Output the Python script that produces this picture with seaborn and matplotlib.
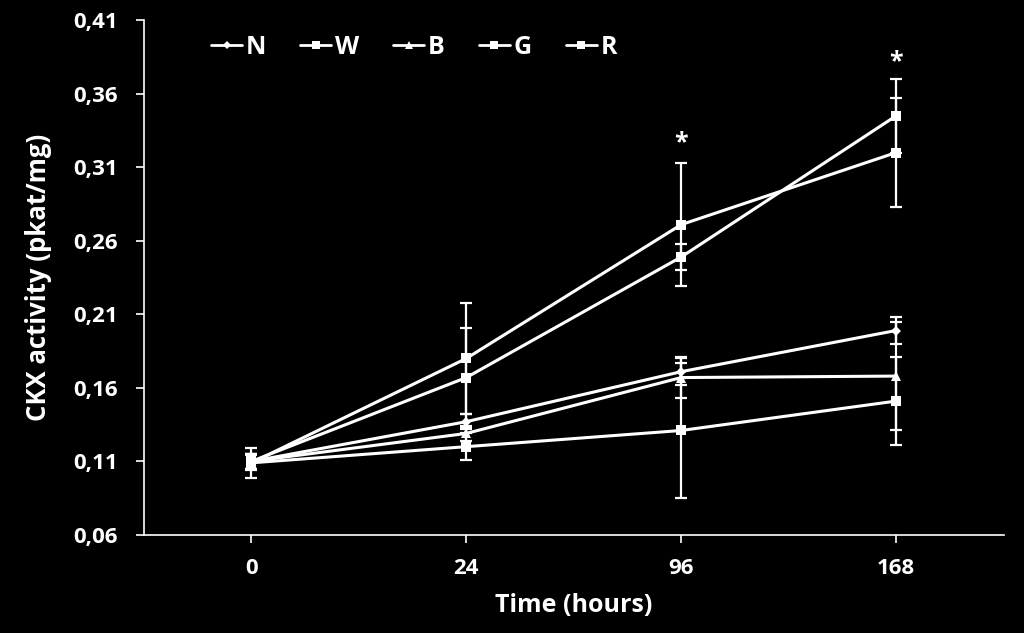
import seaborn as sns
import matplotlib.pyplot as plt
import matplotlib.ticker as mticker
import numpy as np
import pandas as pd

# Data (CKX activity, pkat/mg)
times = ['0', '24', '96', '168']
series = ['N', 'W', 'B', 'G', 'R']
N_vals = [0.110, 0.137, 0.171, 0.199]
W_vals = [0.109, 0.120, 0.131, 0.151]
B_vals = [0.110, 0.129, 0.167, 0.168]
G_vals = [0.109, 0.180, 0.271, 0.320]
R_vals = [0.110, 0.167, 0.249, 0.345]
N_err = [0.005, 0.005, 0.009, 0.009]
W_err = [0.010, 0.009, 0.046, 0.030]
B_err = [0.005, 0.005, 0.014, 0.037]
G_err = [0.005, 0.038, 0.042, 0.037]
R_err = [0.005, 0.034, 0.009, 0.025]
star_times = ['96', '168']
star_y = [0.327, 0.382]

values = {'N': N_vals, 'W': W_vals, 'B': B_vals, 'G': G_vals, 'R': R_vals}
errors = {'N': N_err, 'W': W_err, 'B': B_err, 'G': G_err, 'R': R_err}
markers = {'N': 'D', 'W': 's', 'B': '^', 'G': 's', 'R': 's'}
msizes = {'N': 5, 'W': 7, 'B': 7, 'G': 7, 'R': 7}

pos = np.arange(len(times))
rows = []
for s in series:
    for p, v in zip(pos, values[s]):
        rows.append({'pos': p, 'value': v, 'series': s})
df = pd.DataFrame(rows)

sns.set_theme(style='ticks')
plt.rcParams['font.family'] = ['Open Sans', 'DejaVu Sans']
plt.rcParams['font.weight'] = 'bold'

fig = plt.figure(figsize=(10.24, 6.33), dpi=100, facecolor='black')
ax = fig.add_axes([0.1406, 0.155, 0.8394, 0.813])
ax.set_facecolor('black')

for s in series:
    ax.errorbar(pos, values[s], yerr=errors[s], fmt='none', ecolor='white',
                elinewidth=1.6, capsize=4, capthick=1.6, zorder=2)

sns.lineplot(data=df, x='pos', y='value', hue='series', style='series',
             palette={s: 'white' for s in series}, markers=markers,
             dashes=False, linewidth=2.2, markersize=7, markeredgewidth=0,
             ax=ax, zorder=3, legend=False)

# diamond is smaller than the squares
for line, s in zip(ax.get_lines()[-len(series):], series):
    line.set_markersize(msizes[s])

handles = [plt.Line2D([], [], color='white', lw=2, marker=markers[s],
                      markersize=msizes[s] - 1, markeredgewidth=0) for s in series]
ax.legend(handles, series, ncol=5, frameon=False, loc='center left',
          bbox_to_anchor=(0.078, 0.947), handlelength=1.25, handletextpad=0.15,
          columnspacing=1.35, labelcolor='white', borderaxespad=0, borderpad=0,
          prop={'family': 'Open Sans', 'weight': 'bold', 'size': 18})

for t, y in zip(star_times, star_y):
    ax.text(times.index(t), y, '*', color='white', ha='center', va='center',
            fontsize=18, fontweight='bold')

ax.set_xlim(-0.5, 3.5)
ax.set_ylim(0.06, 0.41)
ax.set_xticks(pos)
ax.set_xticklabels(times)
ax.yaxis.set_major_locator(mticker.FixedLocator(np.arange(0.06, 0.4101, 0.05)))
ax.yaxis.set_major_formatter(mticker.FuncFormatter(lambda v, _: f'{v:.2f}'.replace('.', ',')))

for side in ['top', 'right']:
    ax.spines[side].set_visible(False)
for side in ['left', 'bottom']:
    ax.spines[side].set_color('white')
    ax.spines[side].set_linewidth(1.2)
ax.tick_params(colors='white', labelsize=16, length=6, width=1.2, direction='out')
ax.tick_params(axis='x', pad=11)
ax.tick_params(axis='y', pad=13)
for lab in ax.get_xticklabels() + ax.get_yticklabels():
    lab.set_fontweight('bold')

ax.set_xlabel('Time (hours)', color='white', fontsize=18, fontweight='bold', labelpad=10)
ax.set_ylabel('CKX activity (pkat/mg)', color='white', fontsize=18.5, fontweight='bold', labelpad=15)

fig.savefig('out.png', dpi=100, facecolor='black')
